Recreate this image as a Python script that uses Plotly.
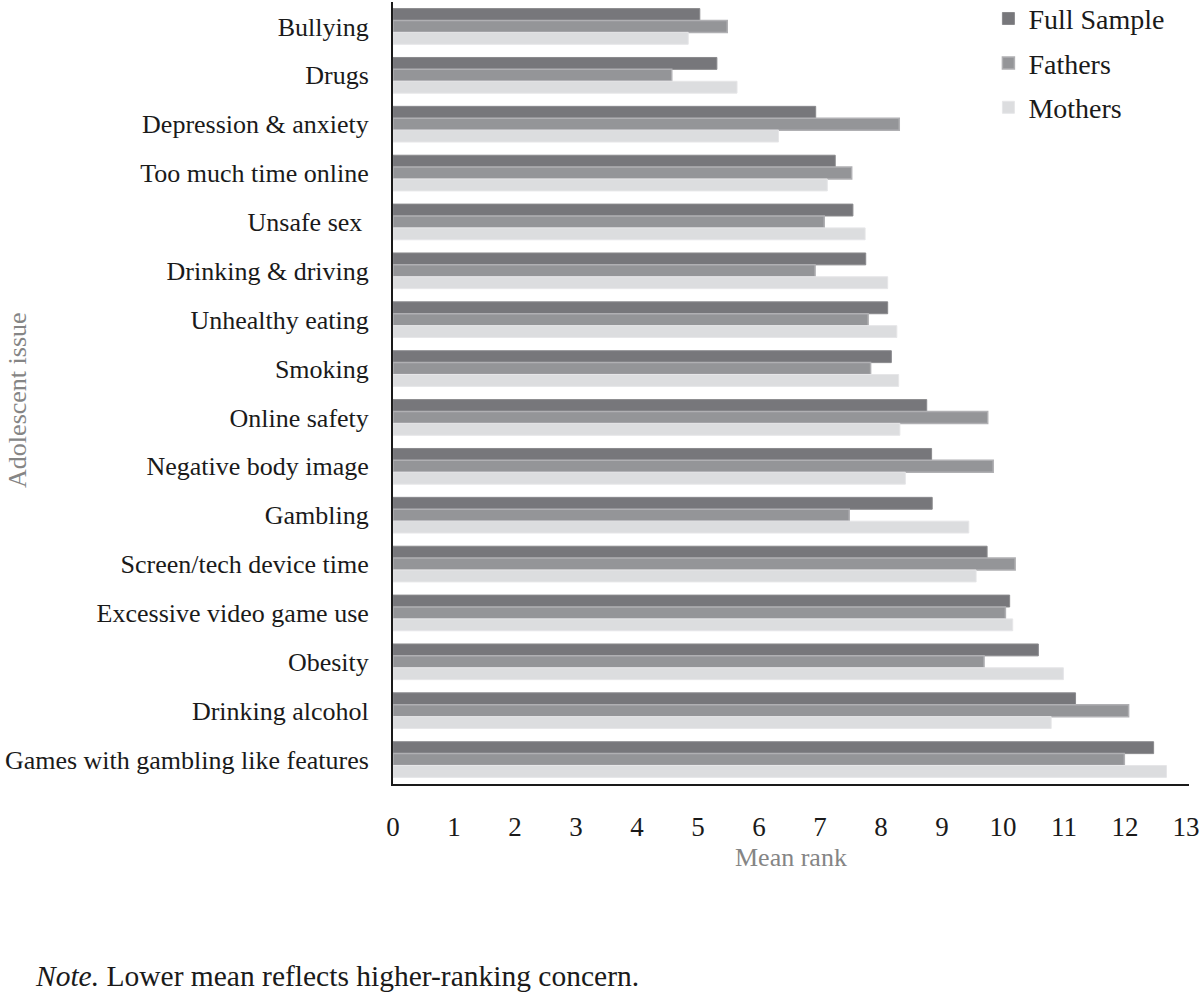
import plotly.graph_objects as go

categories = ["Bullying", "Drugs", "Depression & anxiety", "Too much time online",
              "Unsafe sex ", "Drinking & driving", "Unhealthy eating", "Smoking",
              "Online safety", "Negative body image", "Gambling", "Screen/tech device time",
              "Excessive video game use", "Obesity", "Drinking alcohol",
              "Games with gambling like features"]
full_sample = [5.03, 5.31, 6.93, 7.25, 7.54, 7.75, 8.11, 8.17, 8.75, 8.83, 8.84, 9.74,
               10.11, 10.58, 11.19, 12.47]
fathers = [5.48, 4.57, 8.30, 7.52, 7.07, 6.92, 7.79, 7.83, 9.75, 9.84, 7.48, 10.20,
           10.04, 9.69, 12.06, 11.99]
mothers = [4.84, 5.64, 6.32, 7.12, 7.74, 8.11, 8.26, 8.29, 8.31, 8.40, 9.44, 9.56,
           10.16, 10.99, 10.79, 12.68]
x_ticks = list(range(0, 14))

serif = "Liberation Serif, Times New Roman, serif"

fig = go.Figure()
fig.add_trace(go.Bar(name="Full Sample", y=categories, x=full_sample, orientation="h",
                     marker=dict(color="#77777b", line=dict(color="#8a8a8d", width=1)),
                     legendgroup="a"))
fig.add_trace(go.Bar(name="Fathers", y=categories, x=fathers, orientation="h",
                     marker=dict(color="#949598", line=dict(color="#b0b0b3", width=1.5)),
                     legendgroup="b"))
fig.add_trace(go.Bar(name="Mothers", y=categories, x=mothers, orientation="h",
                     marker=dict(color="#dcdddf", line=dict(color="#e6e6e8", width=1)),
                     legendgroup="c"))

fig.update_layout(
    width=1200, height=995,
    margin=dict(l=393, r=11, t=2, b=211, autoexpand=False),
    paper_bgcolor="white", plot_bgcolor="white",
    barmode="group", bargap=0.27, bargroupgap=0,
    font=dict(family=serif, color="#1a1a1a", size=26),
    showlegend=True,
    legend=dict(x=0.748, y=1.0105, xanchor="left", yanchor="top",
                font=dict(size=28, family=serif, color="#1a1a1a"),
                bgcolor="rgba(0,0,0,0)", tracegroupgap=5, itemwidth=30),
    xaxis=dict(range=[0, 13.05], tickvals=x_ticks, ticktext=[str(v) for v in x_ticks],
               showgrid=False, zeroline=False, showline=True, linecolor="#1a1a1a",
               linewidth=2, ticks="", ticklabelstandoff=18, automargin=False,
               tickfont=dict(size=27, family=serif, color="#1a1a1a")),
    yaxis=dict(autorange="reversed", showgrid=False, zeroline=False, showline=True,
               linecolor="#1a1a1a", linewidth=2, ticks="", ticklabelstandoff=17,
               automargin=False,
               tickfont=dict(size=26, family=serif, color="#1a1a1a")),
    annotations=[
        dict(text="Mean rank", xref="paper", yref="paper", x=0.5, y=-0.094,
             xanchor="center", yanchor="middle", showarrow=False,
             font=dict(size=26, family=serif, color="#858585")),
        dict(text="Adolescent issue", xref="paper", yref="paper", x=-0.471, y=0.49,
             xanchor="center", yanchor="middle", showarrow=False, textangle=-90,
             font=dict(size=26, family=serif, color="#858585")),
        dict(text="<i>Note.</i> Lower mean reflects higher-ranking concern.",
             xref="paper", yref="paper", x=-0.452, y=-0.246,
             xanchor="left", yanchor="middle", showarrow=False,
             font=dict(size=29.5, family=serif, color="#1a1a1a")),
    ],
)

fig.write_html("out.html", config={"displayModeBar": False},
               post_script="document.body.style.margin='0';document.body.style.overflow='hidden';")
